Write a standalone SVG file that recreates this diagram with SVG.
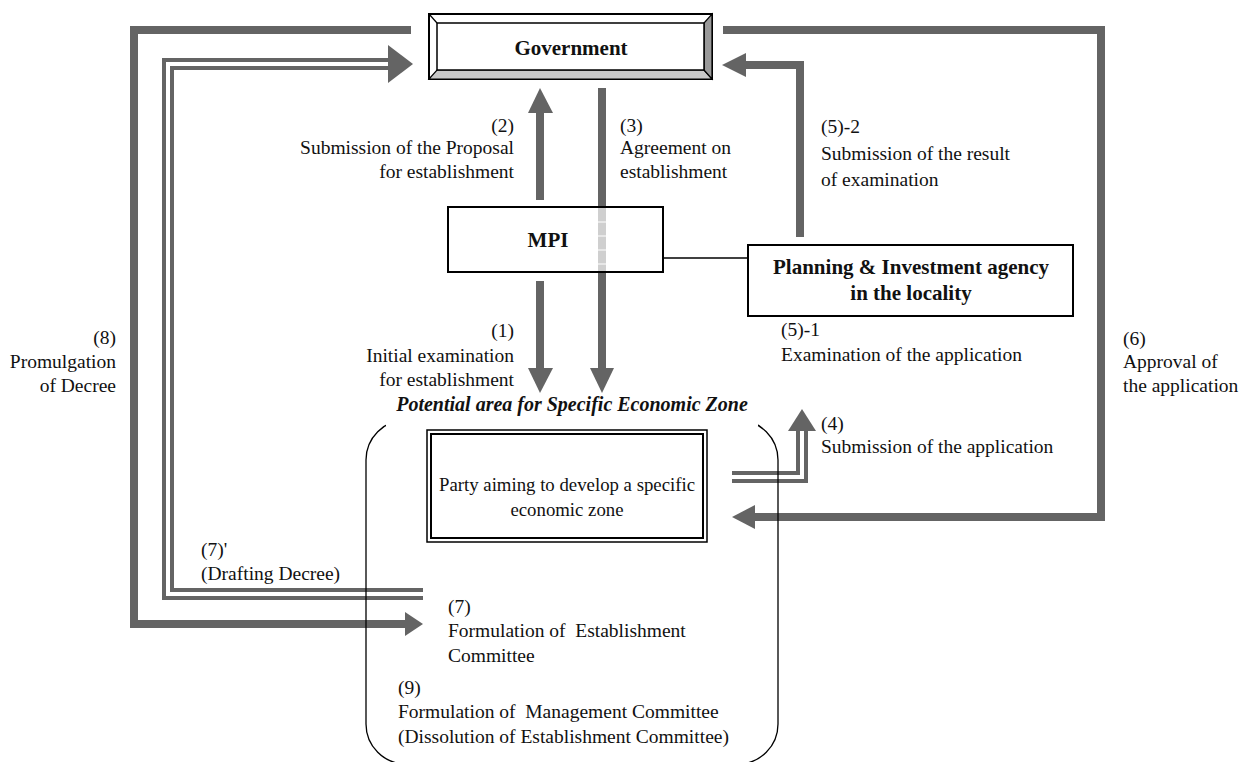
<svg xmlns="http://www.w3.org/2000/svg" width="1248" height="762" viewBox="0 0 1248 762">
<defs>
<style>
.t{font-family:"Liberation Serif","Times New Roman",serif;font-size:19.5px;fill:#111}
.p{font-family:"Liberation Serif","Times New Roman",serif;font-size:18.8px;fill:#111}
.b{font-family:"Liberation Serif","Times New Roman",serif;font-size:21px;font-weight:bold;fill:#111}
.bi{font-family:"Liberation Serif","Times New Roman",serif;font-size:20px;font-weight:bold;font-style:italic;fill:#111}
.thick{fill:none;stroke:#646464;stroke-width:8}
.dbl{fill:none;stroke:#646464;stroke-width:4}
.head{fill:#646464}
.box{fill:#fff;stroke:#000;stroke-width:2}
</style>
</defs>
<rect width="1248" height="762" fill="#fff"/>

<g id="connectors">
  <!-- (8) Promulgation -->
  <path class="thick" d="M411,30 L134,30 L134,624 L405,624"/>
  <polygon class="head" points="405,612 423,624 405,636"/>
  <!-- (7)' drafting decree double line -->
  <path class="dbl" d="M423,598 L164,598 L164,60 L390,60"/>
  <path class="dbl" d="M423,590 L172,590 L172,68 L390,68"/>
  <polygon class="head" points="388,45 413,64 388,83"/>
  <!-- (6) approval -->
  <path class="thick" d="M723,30 L1101,30 L1101,517 L755,517"/>
  <polygon class="head" points="755,505 732,517 755,529"/>
  <!-- (5)-2 -->
  <path class="thick" d="M800,237 L800,65 L746,65"/>
  <polygon class="head" points="746,53 722,65 746,77"/>
  <!-- (2) -->
  <path class="thick" d="M540,200 L540,112"/>
  <polygon class="head" points="528,113 540,88 553,113"/>
  <!-- (3) -->
  <path class="thick" d="M602,88 L602,369"/>
  <polygon class="head" points="590,368 602,393 614,368"/>
  <!-- (1) -->
  <path class="thick" d="M540,281 L540,369"/>
  <polygon class="head" points="528,368 540,393 553,368"/>
  <!-- (4) double line -->
  <path class="dbl" d="M732,473 L798,473 L798,430"/>
  <path class="dbl" d="M732,481 L806,481 L806,430"/>
  <polygon class="head" points="788,431 802,409 816,431"/>
  <!-- MPI to Planning -->
  <line x1="663" y1="258" x2="748" y2="258" stroke="#000" stroke-width="1.5"/>
</g>

<g id="government">
  <rect x="429" y="14" width="283" height="65" fill="#fff" stroke="#000" stroke-width="2"/>
  <polygon points="429,79 712,79 704,70 437,70" fill="#c8c8c8" stroke="#000" stroke-width="1.2"/>
  <polygon points="712,14 712,79 704,70 704,23" fill="#9a9a9a" stroke="#000" stroke-width="1.2"/>
  <line x1="429" y1="14" x2="437" y2="23" stroke="#000" stroke-width="1.2"/>
  <rect x="437" y="23" width="267" height="47" fill="#fff" stroke="#000" stroke-width="1.5"/>
  <text class="b" x="571" y="55" text-anchor="middle">Government</text>
</g>

<g id="mpi">
  <rect class="box" x="448" y="207" width="215" height="65"/>
  <rect x="598" y="208" width="8" height="63" fill="#cfcfcf"/>
  <line x1="598" y1="222" x2="606" y2="222" stroke="#fff" stroke-width="1"/>
  <line x1="598" y1="236" x2="606" y2="236" stroke="#fff" stroke-width="1"/>
  <line x1="598" y1="250" x2="606" y2="250" stroke="#fff" stroke-width="1"/>
  <line x1="598" y1="264" x2="606" y2="264" stroke="#fff" stroke-width="1"/>
  <text class="b" x="548" y="247" text-anchor="middle">MPI</text>
</g>

<g id="planning">
  <rect class="box" x="748" y="245" width="325" height="71"/>
  <text class="b" x="911" y="274" text-anchor="middle">Planning &amp; Investment agency</text>
  <text class="b" x="911" y="300" text-anchor="middle">in the locality</text>
</g>

<g id="area">
  <rect x="366" y="420" width="412" height="344" rx="40" ry="40" fill="none" stroke="#000" stroke-width="1.3"/>
  <rect x="386" y="395" width="372" height="31" fill="#fff"/>
  <text class="bi" x="572" y="411" text-anchor="middle">Potential area for Specific Economic Zone</text>
</g>

<g id="party">
  <rect x="427" y="430" width="280" height="112" fill="#fff" stroke="#000" stroke-width="1.5"/>
  <rect x="431" y="434" width="272" height="104" fill="none" stroke="#000" stroke-width="2"/>
  <text class="p" x="567" y="491" text-anchor="middle">Party aiming to develop a specific</text>
  <text class="p" x="567" y="516" text-anchor="middle">economic zone</text>
</g>

<g id="labels">
  <text class="t" x="514" y="132" text-anchor="end">(2)</text>
  <text class="t" x="514" y="154" text-anchor="end">Submission of the Proposal</text>
  <text class="t" x="514" y="178" text-anchor="end">for establishment</text>

  <text class="t" x="620" y="132">(3)</text>
  <text class="t" x="620" y="154">Agreement on</text>
  <text class="t" x="620" y="178">establishment</text>

  <text class="t" x="821" y="133">(5)-2</text>
  <text class="t" x="821" y="160">Submission of the result</text>
  <text class="t" x="821" y="186">of examination</text>

  <text class="t" x="514" y="337" text-anchor="end">(1)</text>
  <text class="t" x="514" y="362" text-anchor="end">Initial examination</text>
  <text class="t" x="514" y="386" text-anchor="end">for establishment</text>

  <text class="t" x="781" y="336">(5)-1</text>
  <text class="t" x="781" y="361">Examination of the application</text>

  <text class="t" x="116" y="344" text-anchor="end">(8)</text>
  <text class="t" x="116" y="368" text-anchor="end">Promulgation</text>
  <text class="t" x="116" y="392" text-anchor="end">of Decree</text>

  <text class="t" x="1123" y="345">(6)</text>
  <text class="t" x="1123" y="368">Approval of</text>
  <text class="t" x="1123" y="392">the application</text>

  <text class="t" x="821" y="430">(4)</text>
  <text class="t" x="821" y="453">Submission of the application</text>

  <text class="t" x="201" y="556">(7)'</text>
  <text class="t" x="201" y="580">(Drafting Decree)</text>

  <text class="t" x="448" y="613">(7)</text>
  <text class="t" x="448" y="637" xml:space="preserve">Formulation of  Establishment</text>
  <text class="t" x="448" y="662">Committee</text>

  <text class="t" x="398" y="694">(9)</text>
  <text class="t" x="398" y="718" xml:space="preserve">Formulation of  Management Committee</text>
  <text class="t" x="398" y="743">(Dissolution of Establishment Committee)</text>
</g>
</svg>
